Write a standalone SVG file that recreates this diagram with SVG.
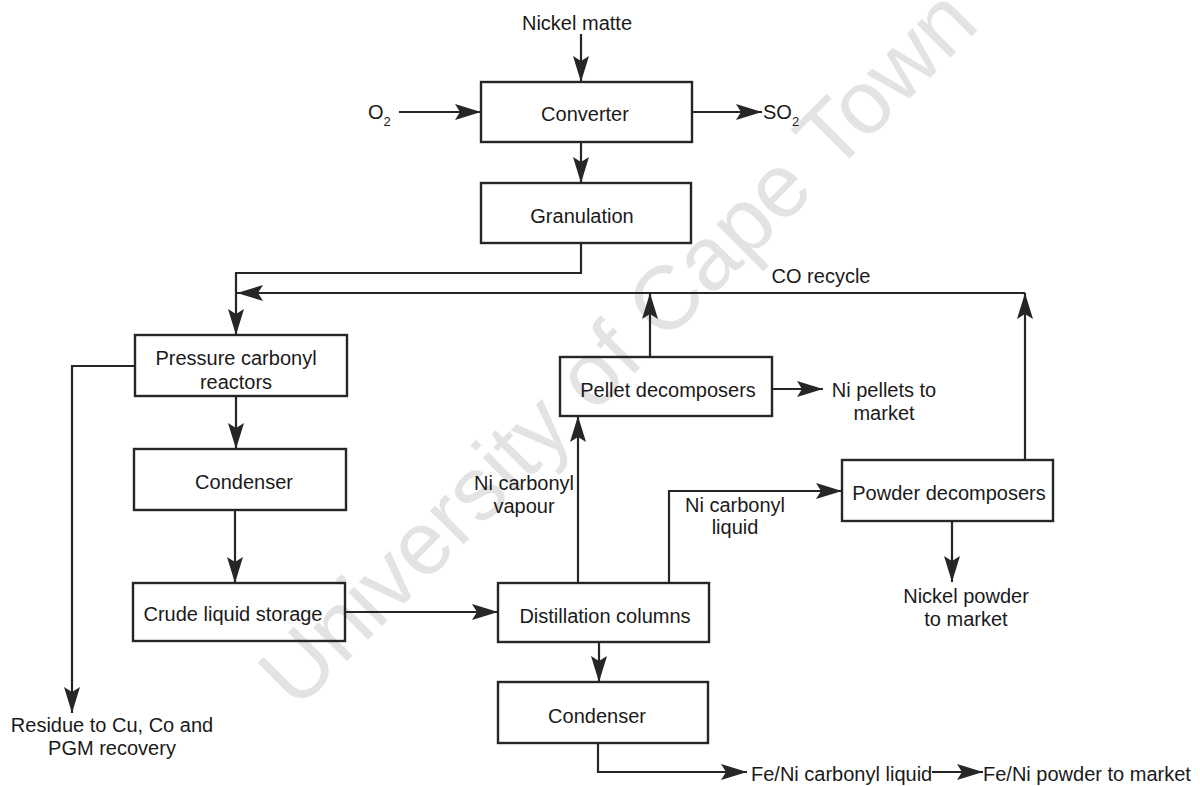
<svg xmlns="http://www.w3.org/2000/svg" width="1200" height="786" viewBox="0 0 1200 786">
  <style>
    .box { fill: none; stroke: #262626; stroke-width: 2.4; }
    .wire { fill: none; stroke: #262626; stroke-width: 2.2; marker-end: url(#head); }
    text { font-family: "Liberation Sans", Arial, sans-serif; font-size: 20px; fill: #1a1a1a; }
    .c { text-anchor: middle; }
    .sub { font-size: 13px; }
    .mark { font-size: 90px; fill: #e3e3e3; text-anchor: middle; }
  </style>
  <defs>
    <marker id="head" markerUnits="userSpaceOnUse" viewBox="0 0 26 16" refX="26" refY="8" markerWidth="26" markerHeight="16" orient="auto">
      <path d="M0,0 L26,8 L0,16 L5,8 Z" fill="#262626"/>
    </marker>
  </defs>

  <rect width="1200" height="786" fill="#ffffff"/>

  <!-- faint diagonal watermark behind the flowsheet -->
  <text class="mark" x="0" y="0" transform="translate(639,369) rotate(-45)">University of Cape Town</text>

  <!-- connectors -->
  <g id="connectors">
    <path class="wire" d="M581,34 V82"/>
    <path class="wire" d="M399,112 H481"/>
    <path class="wire" d="M692,112 H762"/>
    <path class="wire" d="M581,142 V183"/>
    <path class="wire" d="M581,243 V273 H236 V335"/>
    <path class="wire" d="M1025,460 V293"/>
    <path class="wire" d="M1025,293 H237"/>
    <path class="wire" d="M650,357 V293"/>
    <path class="wire" d="M135,366 H72 V713"/>
    <path class="wire" d="M236,396 V449"/>
    <path class="wire" d="M235,510 V583"/>
    <path class="wire" d="M345,612 H498"/>
    <path class="wire" d="M578,583 V416"/>
    <path class="wire" d="M669,583 V491 H842"/>
    <path class="wire" d="M772,389 H823"/>
    <path class="wire" d="M952,521 V582"/>
    <path class="wire" d="M599,642 V682"/>
    <path class="wire" d="M598,743 V772 H747"/>
    <path class="wire" d="M932,772 H983"/>
  </g>

  <!-- stream labels -->
  <g id="labels">
    <text class="c" x="577" y="30">Nickel matte</text>
    <text x="368" y="119">O<tspan class="sub" dy="7">2</tspan></text>
    <text x="763" y="119">SO<tspan class="sub" dy="7">2</tspan></text>
    <text class="c" x="821" y="283">CO recycle</text>
    <text class="c" x="884" y="397">Ni pellets to</text>
    <text class="c" x="884" y="420">market</text>
    <text class="c" x="524" y="490">Ni carbonyl</text>
    <text class="c" x="524" y="513">vapour</text>
    <text class="c" x="735" y="512">Ni carbonyl</text>
    <text class="c" x="735" y="534">liquid</text>
    <text class="c" x="966" y="603">Nickel powder</text>
    <text class="c" x="966" y="626">to market</text>
    <text class="c" x="112" y="732">Residue to Cu, Co and</text>
    <text class="c" x="112" y="755">PGM recovery</text>
    <text x="751" y="781">Fe/Ni carbonyl liquid</text>
    <text x="983" y="781">Fe/Ni powder to market</text>
  </g>

  <!-- unit operations -->
  <g id="converter">
    <rect class="box" x="481" y="82" width="211" height="60"/>
    <text class="c" x="585" y="121">Converter</text>
  </g>
  <g id="granulation">
    <rect class="box" x="481" y="183" width="210" height="60"/>
    <text class="c" x="582" y="223">Granulation</text>
  </g>
  <g id="pressure-carbonyl-reactors">
    <rect class="box" x="135" y="335" width="212" height="61"/>
    <text class="c" x="236" y="365">Pressure carbonyl</text>
    <text class="c" x="236" y="389">reactors</text>
  </g>
  <g id="condenser-1">
    <rect class="box" x="134" y="449" width="212" height="61"/>
    <text class="c" x="244" y="489">Condenser</text>
  </g>
  <g id="crude-liquid-storage">
    <rect class="box" x="133" y="583" width="212" height="58"/>
    <text class="c" x="233" y="621">Crude liquid storage</text>
  </g>
  <g id="pellet-decomposers">
    <rect class="box" x="560" y="357" width="212" height="59"/>
    <text class="c" x="668" y="397">Pellet decomposers</text>
  </g>
  <g id="powder-decomposers">
    <rect class="box" x="842" y="460" width="211" height="61"/>
    <text class="c" x="949" y="500">Powder decomposers</text>
  </g>
  <g id="distillation-columns">
    <rect class="box" x="498" y="583" width="211" height="59"/>
    <text class="c" x="605" y="623">Distillation columns</text>
  </g>
  <g id="condenser-2">
    <rect class="box" x="498" y="682" width="210" height="61"/>
    <text class="c" x="597" y="723">Condenser</text>
  </g>
</svg>
